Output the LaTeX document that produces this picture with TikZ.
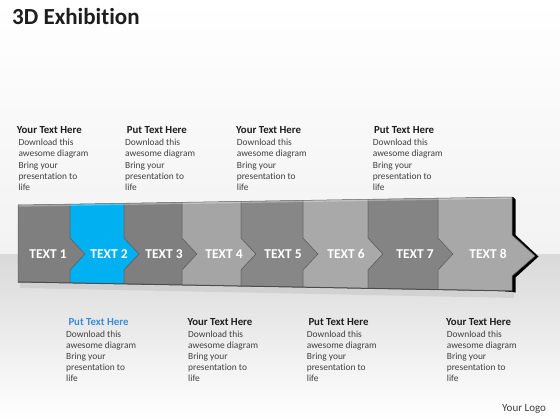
\documentclass[tikz,border=0pt]{standalone}
\usepackage{fontspec}
\setmainfont[Ligatures=NoCommon]{Carlito}
\definecolor{sa}{HTML}{7F7F7F}
\definecolor{sb}{HTML}{00B0F0}
\definecolor{sc}{HTML}{7F7F7F}
\definecolor{sd}{HTML}{A5A5A5}
\definecolor{se}{HTML}{878787}
\definecolor{sf}{HTML}{A9A9A9}
\definecolor{sg}{HTML}{848484}
\definecolor{sh}{HTML}{A8A8A8}
\definecolor{edgec}{HTML}{5E5E5E}
\definecolor{headc}{HTML}{1E1E1E}
\definecolor{bluehead}{HTML}{3A8DD4}
\definecolor{bodyc}{HTML}{404040}
\definecolor{bgtop}{HTML}{F2F2F2}
\definecolor{floorc}{HTML}{D9D9D9}
\begin{document}
\begin{tikzpicture}[x=1pt,y=-1pt,
  seglab/.style={text=white,font=\fontsize{13.5}{16}\selectfont\bfseries,inner sep=0},
  head/.style={anchor=base west,inner sep=0,font=\fontsize{10.8}{12}\selectfont\bfseries,text=headc},
  body/.style={anchor=base west,inner sep=0,font=\fontsize{9.4}{11.2}\selectfont,text=bodyc},
  segbox/.style={draw=edgec,line width=0.5pt}]
\useasboundingbox (0,0) rectangle (560,420);
% background
\shade[top color=white,bottom color=bgtop] (0,0) rectangle (560,254);
\shade[top color=floorc,bottom color=white] (0,254) rectangle (560,420);
% title
\node[anchor=base west,inner sep=0,font=\fontsize{23}{26}\selectfont\bfseries,text=headc] (title) at (12,25) {3D Exhibition};
% shadow under band
\fill[black,opacity=0.07] (20,283) -- (514,292) -- (514,298) -- (20,288) -- cycle;
% dark 3D side of the last arrow
\fill[black] (505,198.5) -- (513,197) -- (515.5,199.5) -- (515.5,235) -- (538.5,256.5) -- (515.5,277.5) -- (515.5,292.5) -- (513,292) -- (505,291.5) -- cycle;
% segments
\foreach \a/\b/\c/\t/\lx/\ld/\rt/\rd/\ry/\rb [count=\i] in {
  18/70/sa/TEXT 1/48/0/238/15/254/270,
  70/124/sb/TEXT 2/109/15/238/15/254/270,
  124/182/sc/TEXT 3/164/15/238/15/254/270,
  182/241/sd/TEXT 4/224/15/238/15/254/270,
  241/303/se/TEXT 5/283/15/238/15/254/270,
  303/368/sf/TEXT 6/346/15/238/15/254/270,
  368/438/sg/TEXT 7/415/15/238/15/254/270,
  438/512/sh/TEXT 8/488/15/235/23/256/276}{
  \pgfmathsetmacro\ta{205-8*(\a-18)/494}
  \pgfmathsetmacro\tb{205-8*(\b-18)/494}
  \pgfmathsetmacro\ba{282+9*(\a-18)/494}
  \pgfmathsetmacro\bb{282+9*(\b-18)/494}
  \filldraw[fill=\c,segbox] (\a,\ta) -- (\b,\tb) -- (\b,\rt) -- (\b+\rd,\ry) -- (\b,\rb) -- (\b,\bb) -- (\a,\ba) -- (\a,270) -- (\a+\ld,254) -- (\a,238) -- cycle;
  \node[seglab] (t\i) at (\lx,254) {\t};
}
% top highlight and bottom edge
\draw[white,opacity=0.3,line width=1.4pt] (18.5,206) -- (511.5,198);
\draw[black!70,line width=1pt] (18,282) -- (512,291);
% top text blocks
\node[head] (h1) at (16.7,133.7) {Your Text Here};
\node[head] (h2) at (126.7,133.7) {Put Text Here};
\node[head] (h3) at (236,133.7) {Your Text Here};
\node[head] (h4) at (374,133.7) {Put Text Here};
\foreach \x [count=\j] in {18.3,125,236.7,372.7}{
  \node[body] (b\j) at (\x,145.7) {\begin{tabular}[t]{@{}l@{}}Download this\\awesome diagram\\Bring your\\presentation to\\life\end{tabular}};
}
% bottom text blocks
\node[head,text=bluehead] (h5) at (68.3,325) {Put Text Here};
\node[head] (h6) at (187.3,325) {Your Text Here};
\node[head] (h7) at (308.3,325) {Put Text Here};
\node[head] (h8) at (446,325) {Your Text Here};
\foreach \x [count=\j from 5] in {66,188,306.7,446.7}{
  \node[body] (b\j) at (\x,337) {\begin{tabular}[t]{@{}l@{}}Download this\\awesome diagram\\Bring your\\presentation to\\life\end{tabular}};
}
\node[anchor=base west,inner sep=0,font=\fontsize{11}{13}\selectfont,text=bodyc] (logo) at (502,411) {Your Logo};
\end{tikzpicture}
\end{document}
